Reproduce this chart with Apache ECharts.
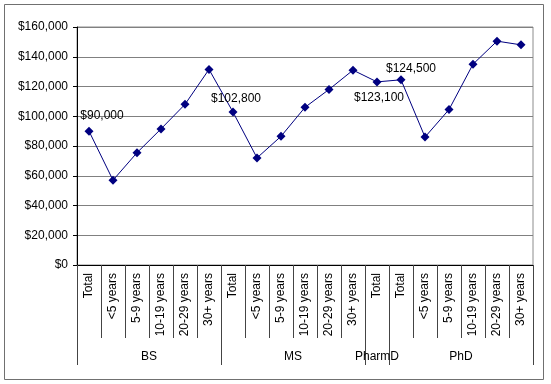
<!DOCTYPE html>
<html>
<head>
<meta charset="utf-8">
<script src="https://cdn.jsdelivr.net/npm/echarts@6/dist/echarts.min.js"></script>
<style>
  html, body { margin: 0; padding: 0; background: #fff; }
  #chart { width: 551px; height: 384px; }
</style>
</head>
<body>
<div id="chart"></div>
<script>
// categories along the x axis, one per point
var categories = [
  'Total', '<5 years', '5-9 years', '10-19 years', '20-29 years', '30+ years',
  'Total', '<5 years', '5-9 years', '10-19 years', '20-29 years', '30+ years',
  'Total',
  'Total', '<5 years', '5-9 years', '10-19 years', '20-29 years', '30+ years'
];
// degree groups under the category labels
var groupNames = ['BS', 'MS', 'PharmD', 'PhD'];
var groupSizes = [6, 6, 1, 6];

// salary per category
var salaries = [
  90000, 57000, 75500, 91500, 108000, 131500,
  102800, 72000, 86500, 106000, 118000, 131000,
  123100,
  124500, 86000, 104500, 135000, 150500, 148000
];

// which points carry a value label
var labelled = [0, 6, 12, 13];

var yTicks = { min: 0, max: 160000, step: 20000 };

function money(v) {
  return '$' + Number(v).toLocaleString('en-US');
}

// group axis works on half-category slots: boundaries and centres
var slots = [];
var groupEdges = [0];
var groupMid = {};
var pos = 0;
for (var g = 0; g < groupNames.length; g++) {
  groupMid[pos + groupSizes[g]] = groupNames[g];
  pos += groupSizes[g] * 2;
  groupEdges.push(pos);
}
for (var s = 0; s <= pos; s++) {
  slots.push(groupMid[s] || '');
}

// label placement for the four labelled points
var labelOffsets = {
  0: { position: 'top', offset: [13, 0] },
  6: { position: 'top', offset: [3, 2] },
  12: { position: 'bottom', offset: [2, 0] },
  13: { position: 'top', offset: [10, 4] }
};

var seriesData = salaries.map(function (v, i) {
  if (labelled.indexOf(i) < 0) return v;
  var lo = labelOffsets[i];
  return {
    value: v,
    label: {
      show: true,
      position: lo.position,
      offset: lo.offset,
      distance: 5,
      formatter: function (p) { return money(p.value); }
    }
  };
});

var font = 'Liberation Sans, Arial, sans-serif';
var chart = echarts.init(document.getElementById('chart'), null, { renderer: 'canvas' });

chart.setOption({
  animation: false,
  backgroundColor: '#fff',
  textStyle: { fontFamily: font },
  graphic: [{
    type: 'rect',
    shape: { x: 4.5, y: 4.5, width: 539, height: 375 },
    style: { fill: 'none', stroke: '#707070', lineWidth: 1 },
    silent: true
  }],
  grid: {
    left: 77, right: 18, top: 27, bottom: 119,
    show: true, borderColor: '#8c8c8c', borderWidth: 1,
    containLabel: false
  },
  xAxis: [{
    type: 'category',
    data: categories,
    boundaryGap: true,
    axisLine: { lineStyle: { color: '#000', width: 1 } },
    axisTick: {
      show: true, interval: 0, length: 73, alignWithLabel: false,
      lineStyle: { color: '#444', width: 1 }
    },
    axisLabel: {
      interval: 0, rotate: 90, margin: 8,
      fontSize: 12, color: '#000', fontFamily: font
    },
    splitLine: { show: false }
  }, {
    type: 'category',
    data: slots,
    position: 'bottom',
    offset: 72,
    boundaryGap: false,
    axisLine: { show: false },
    axisTick: {
      show: true, length: 28,
      interval: function (i) { return groupEdges.indexOf(i) >= 0; },
      lineStyle: { color: '#444', width: 1 }
    },
    axisLabel: {
      interval: function (i, v) { return v !== ''; },
      margin: 14, fontSize: 12, color: '#000', fontFamily: font
    },
    splitLine: { show: false }
  }],
  yAxis: {
    type: 'value',
    min: yTicks.min,
    max: yTicks.max,
    interval: yTicks.step,
    axisLine: { show: true, lineStyle: { color: '#000', width: 1 } },
    axisTick: { show: true, length: 4, lineStyle: { color: '#000' } },
    axisLabel: {
      margin: 9, fontSize: 12, color: '#000', fontFamily: font,
      formatter: money
    },
    splitLine: { show: true, lineStyle: { color: '#808080', width: 1 } }
  },
  series: [{
    type: 'line',
    xAxisIndex: 0,
    data: seriesData,
    symbol: 'diamond',
    symbolSize: 9,
    lineStyle: { color: '#000080', width: 1 },
    itemStyle: { color: '#000080' },
    label: { color: '#000', fontSize: 12, fontFamily: font }
  }]
});
</script>
</body>
</html>
